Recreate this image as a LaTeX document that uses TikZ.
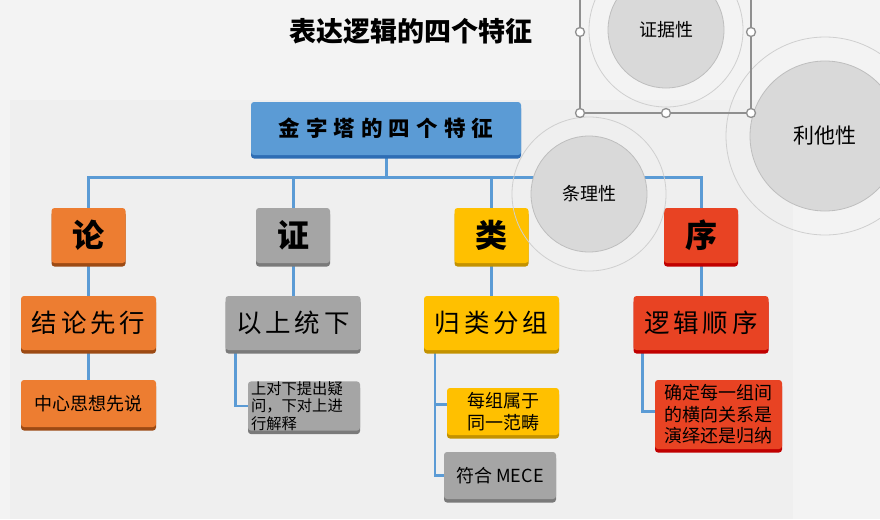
\documentclass[tikz,border=0pt]{standalone}
\usepackage{fontspec}
\setmainfont{Noto Sans CJK SC}
\newfontfamily\cjkwide[LetterSpace=15]{Noto Sans CJK SC}
\newfontfamily\cjktop[LetterSpace=28]{Noto Sans CJK SC}
\usetikzlibrary{shadows,backgrounds}

\definecolor{pagebg}{HTML}{F3F3F3}
\definecolor{panelbg}{HTML}{EFEFEF}
\definecolor{linkblue}{HTML}{5B9BD5}
\definecolor{boxblue}{HTML}{5B9BD5}
\definecolor{blueshade}{HTML}{2E6DB4}
\definecolor{boxorange}{HTML}{ED7D31}
\definecolor{orangeshade}{HTML}{9C4A14}
\definecolor{boxgray}{HTML}{A5A5A5}
\definecolor{grayshade}{HTML}{7A7A7A}
\definecolor{boxyellow}{HTML}{FFC000}
\definecolor{yellowshade}{HTML}{C39200}
\definecolor{boxred}{HTML}{E84323}
\definecolor{redshade}{HTML}{C00000}
\definecolor{ringgray}{HTML}{CFCFCF}
\definecolor{discgray}{HTML}{D9D9D9}
\definecolor{discedge}{HTML}{BEBEBE}
\definecolor{selgray}{HTML}{8F8F8F}

\tikzset{
  card/.style={rounded corners=3pt,fill=#1,inner sep=0pt,align=center,text=black},
  cardshade/.style={general shadow={fill=#1,shadow yshift=-3.5pt,rounded corners=3pt}},
  bluecard/.style={card=boxblue,cardshade=blueshade},
  orangecard/.style={card=boxorange,cardshade=orangeshade},
  graycard/.style={card=boxgray,cardshade=grayshade},
  yellowcard/.style={card=boxyellow,cardshade=yellowshade},
  redcard/.style={card=boxred,cardshade=redshade},
  headbox/.style={minimum width=74,minimum height=55,font=\bfseries\fontsize{32}{36}\selectfont},
  wordbox/.style={minimum width=135,minimum height=54,font=\cjkwide\fontsize{25.5}{29}\selectfont},
  notebox/.style={minimum width=112,minimum height=47,font=\fontsize{18}{21.5}\selectfont},
  link/.style={draw=linkblue,line width=3pt},
  sublink/.style={draw=linkblue,line width=2.5pt},
  disc/.style={circle,fill=discgray,draw=discedge,line width=0.8pt,inner sep=0pt},
  ring/.style={draw=ringgray,line width=0.8pt},
  handle/.style={circle,fill=white,draw=selgray,line width=1.3pt,inner sep=0pt,minimum size=9}
}

\begin{document}
\begin{tikzpicture}[x=1pt,y=-1pt]
\useasboundingbox (0,0) rectangle (880,519);
\begin{scope}[on background layer]
\fill[pagebg] (0,0) rectangle (880,519);
\fill[panelbg] (10,100) rectangle (793,519);
\end{scope}

\node[font=\bfseries\fontsize{27}{32}\selectfont] (title) at (411,31) {表达逻辑的四个特征};

% top of the tree
\node[bluecard,minimum width=270,minimum height=53,font=\cjktop\bfseries\fontsize{21.5}{25}\selectfont] (pyramid) at (386,128.5) {金字塔的四个特征};
\coordinate (bus) at (386,177);

% four features
\node[orangecard,headbox] (lun) at (88.5,235.5) {论};
\node[graycard,headbox] (zheng) at (293,235.5) {证};
\node[yellowcard,headbox] (lei) at (491.5,235.5) {类};
\node[redcard,headbox] (xu) at (701,235.5) {序};

\node[orangecard,wordbox] (lunA) at (88.5,323) {结论先行};
\node[graycard,wordbox] (zhengA) at (293,323) {以上统下};
\node[yellowcard,wordbox] (leiA) at (491.5,323) {归类分组};
\node[redcard,wordbox] (xuA) at (701,323) {逻辑顺序};

% notes
\node[orangecard,notebox,minimum width=135] (lunB) at (88.5,403.5) {中心思想先说};
\node[graycard,minimum width=112,minimum height=48,text width=106,inner xsep=3,align=left,
  font=\fontsize{15.3}{17.5}\selectfont] (zhengB) at (304,406) {上对下提出疑\\问，下对上进\\行解释};
\node[yellowcard,notebox] (leiB) at (503,411.5) {每组属于\\同一范畴};
\node[graycard,notebox] (leiC) at (500,475.5) {符合 MECE};
\node[redcard,notebox,minimum width=127,minimum height=69] (xuB) at (718.5,414.5) {确定每一组间\\的横向关系是\\演绎还是归纳};

\begin{scope}[on background layer]
\draw[link] (pyramid.south) -- (bus);
\foreach \top in {lun,zheng,lei,xu}
  \draw[link] (\top.north) |- (bus);
\foreach \top/\low in {lun/lunA,zheng/zhengA,lei/leiA,xu/xuA}
  \draw[link] (\top.south) -- (\low.north);
\draw[sublink] (lunA.south) -- (lunB.north);
\draw[sublink] ([xshift=10]zhengA.south west) |- (zhengB.west);
\draw[sublink] ([xshift=11]leiA.south west) |- (leiC.west);
\draw[sublink] ([xshift=11,yshift=7]leiA.south west |- leiB.west) -- ([yshift=7]leiB.west);
\draw[sublink] ([xshift=9]xuA.south west) |- ([yshift=3]xuB.west);
\end{scope}

% circles
\node[disc,minimum size=116,font=\fontsize{18}{21}\selectfont] (tiaoli) at (589,194) {条理性};
\draw[ring] (tiaoli.center) circle[radius=77];
\node[disc,minimum size=116,font=\fontsize{18}{21}\selectfont] (zhengju) at (666,30) {证据性};
\draw[ring] (zhengju.center) circle[radius=77];
\node[disc,minimum size=150,font=\fontsize{21}{25}\selectfont] (lita) at (825,136) {利他性};
\draw[ring] (lita.center) circle[radius=99];

% selection frame
\draw[selgray,line width=1.2pt] (580,-5) rectangle (751,113);
\foreach \hx/\hy in {580/32,751/32,580/113,666/113,751/113}
  \node[handle] at (\hx,\hy) {};
\end{tikzpicture}
\end{document}
